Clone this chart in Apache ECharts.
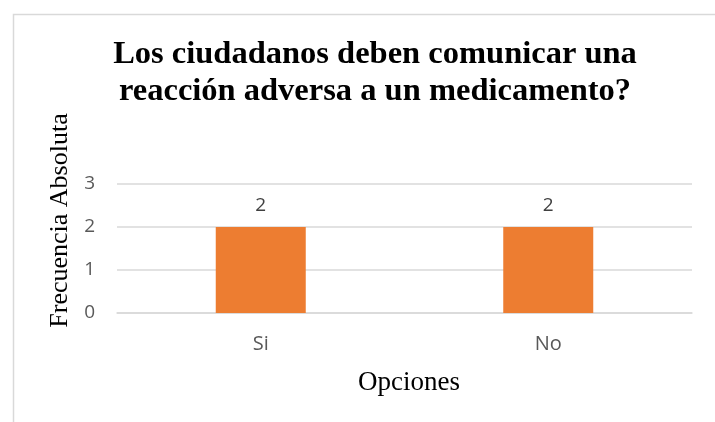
<!DOCTYPE html>
<html><head><meta charset="utf-8">
<script src="https://cdn.jsdelivr.net/npm/echarts@6/dist/echarts.min.js"></script>
<style>html,body{margin:0;padding:0;background:#fff}#c{width:715px;height:422px}</style>
</head><body><div id="c"></div>
<script>
const categories = ['Si', 'No'];
const values = [2, 2];
const yTicks = [0, 1, 2, 3];
const titleText = 'Los ciudadanos deben comunicar una\nreacción adversa a un medicamento?';
const yName = 'Frecuencia Absoluta';
const xName = 'Opciones';

const chart = echarts.init(document.getElementById('c'), null, {renderer: 'canvas'});
chart.setOption({
  animation: false,
  backgroundColor: '#fff',
  graphic: [{
    type: 'rect', left: 11, top: 12,
    shape: {width: 720, height: 430},
    style: {fill: 'none', stroke: '#d9d9d9', lineWidth: 1.5},
    silent: true, z: -1
  }],
  title: {
    text: titleText, left: 370, top: 31, textAlign: 'center',
    textStyle: {fontFamily: 'Liberation Serif', fontWeight: 'bold', fontSize: 32.5, lineHeight: 37, color: '#000'}
  },
  grid: {left: 117, right: 23, top: 184, bottom: 109, containLabel: false},
  xAxis: {
    type: 'category', data: categories,
    axisLine: {show: true, lineStyle: {color: '#d9d9d9', width: 1.5}},
    axisTick: {show: false},
    axisLabel: {color: '#595959', fontFamily: 'Open Sans', fontSize: 20, margin: 21},
    name: xName, nameLocation: 'middle', nameGap: 56,
    nameTextStyle: {fontFamily: 'Liberation Serif', fontSize: 27, color: '#000', padding: [0, 0, 0, 9]}
  },
  yAxis: {
    type: 'value', min: yTicks[0], max: yTicks[yTicks.length - 1], interval: 1,
    axisLine: {show: false}, axisTick: {show: false},
    splitLine: {lineStyle: {color: '#d9d9d9', width: 1.5}},
    axisLabel: {color: '#595959', fontFamily: 'Open Sans', fontSize: 19, margin: 22},
    name: yName, nameLocation: 'middle', nameGap: 44, nameRotate: 90,
    nameTextStyle: {fontFamily: 'Liberation Serif', fontSize: 26, color: '#000', padding: [0, 0, 0, 56]}
  },
  series: [{
    type: 'bar', data: values, barWidth: 90,
    itemStyle: {color: '#ED7D31'},
    label: {show: true, position: 'top', distance: 12, color: '#404040', fontFamily: 'Open Sans', fontSize: 19}
  }]
});
</script></body></html>
